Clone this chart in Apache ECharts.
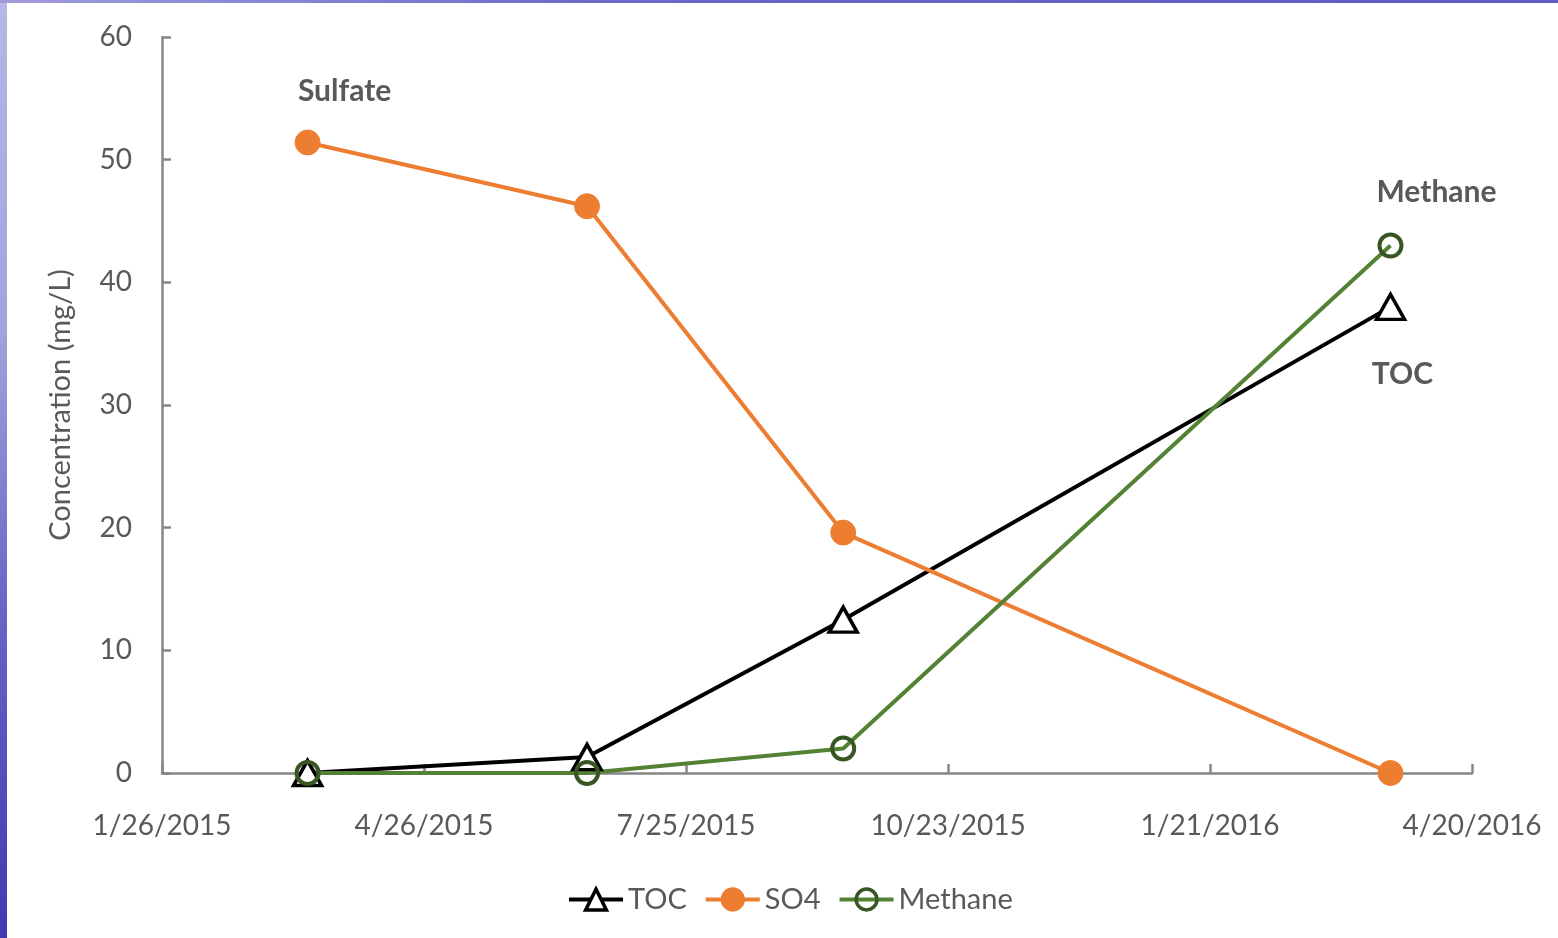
<!DOCTYPE html>
<html>
<head>
<meta charset="utf-8">
<title>Concentration</title>
<script src="https://cdn.jsdelivr.net/npm/echarts@6/dist/echarts.min.js"></script>
<style>
html,body{margin:0;padding:0;width:1558px;height:938px;overflow:hidden;background:#fff;}
#edgeLeft{position:absolute;left:0;top:0;width:7px;height:938px;background:linear-gradient(to bottom,#b6b6e8,#a4a2dc 35%,#6a64c6 65%,#4039b2);}
#edgeTop{position:absolute;left:0;top:0;width:1558px;height:3px;background:linear-gradient(to right,#a09cdc,#6c67c8 40%,#605bc3);}
#chartsDiv{position:absolute;left:0;top:0;width:1558px;height:938px;}
</style>
</head>
<body>
<div id="edgeLeft"></div>
<div id="edgeTop"></div>
<div id="chartsDiv"></div>
<script>
// sample dates and measured values (mg/L)
var sampleDates = ['2015-03-17', '2015-06-21', '2015-09-17', '2016-03-23'];
var tocValues = [0, 1.3, 12.5, 38.0];
var so4Values = [51.4, 46.2, 19.6, 0];
var methaneValues = [0, 0, 2.0, 43.0];

// x axis: days counted from the first tick
var axisStart = '2015-01-26';
var axisDays = 450;
var tickDays = 90;

var DAY = 86400000;
var textGray = '#595959';
var font = 'Lato';

function dayOffset(d) {
	return (Date.parse(d) - Date.parse(axisStart)) / DAY;
}
function dayLabel(v) {
	var d = new Date(Date.parse(axisStart) + v * DAY);
	return (d.getUTCMonth() + 1) + '/' + d.getUTCDate() + '/' + d.getUTCFullYear();
}
// pair dates with values, tag one point with a text label
function buildData(values, tagIndex, tagText, tagOffset) {
	return values.map(function (v, i) {
		var item = { value: [dayOffset(sampleDates[i]), v] };
		if (i === tagIndex) {
			item.label = {
				show: true,
				position: 'inside',
				offset: tagOffset,
				formatter: tagText,
				fontFamily: font,
				fontWeight: 'bold',
				fontSize: 30,
				color: textGray
			};
		}
		return item;
	});
}

var chart = echarts.init(document.getElementById('chartsDiv'));
var axisColor = '#868686';

var option = {
	backgroundColor: 'transparent',
	animation: false,
	grid: { left: 162, right: 86, top: 37, bottom: 165 },
	legend: {
		left: 562,
		top: 880,
		itemWidth: 54,
		itemHeight: 26,
		itemGap: 17,
		lineStyle: { width: 4 },
		itemStyle: { borderWidth: 3.5 },
		textStyle: { fontFamily: font, fontSize: 29, color: textGray },
		data: ['TOC', 'SO4', 'Methane']
	},
	xAxis: {
		type: 'value',
		min: 0,
		max: axisDays,
		interval: tickDays,
		axisLine: { lineStyle: { color: axisColor, width: 2.5 } },
		axisTick: { inside: true, length: 9, lineStyle: { color: axisColor, width: 2.5 } },
		splitLine: { show: false },
		axisLabel: {
			formatter: dayLabel,
			margin: 39,
			fontFamily: font,
			fontSize: 28,
			color: textGray,
			showMinLabel: true,
			showMaxLabel: true
		}
	},
	yAxis: {
		type: 'value',
		min: 0,
		max: 60,
		interval: 10,
		name: 'Concentration (mg/L)',
		nameLocation: 'middle',
		nameGap: 87,
		nameTextStyle: { fontFamily: font, fontSize: 29, color: textGray },
		axisLine: { show: true, lineStyle: { color: axisColor, width: 2.5 } },
		axisTick: { show: true, inside: true, length: 9, lineStyle: { color: axisColor, width: 2.5 } },
		splitLine: { show: false },
		axisLabel: { margin: 30, fontFamily: font, fontSize: 28, color: textGray }
	},
	series: [
		{
			name: 'TOC',
			type: 'line',
			symbol: 'triangle',
			symbolSize: [28, 25],
			lineStyle: { color: '#000', width: 4 },
			itemStyle: { color: '#fff', borderColor: '#000', borderWidth: 3.5 },
			data: buildData(tocValues, 3, 'TOC', [12, 67])
		},
		{
			name: 'SO4',
			type: 'line',
			symbol: 'circle',
			symbolSize: 25,
			lineStyle: { color: '#ed7d31', width: 4 },
			itemStyle: { color: '#ed7d31', borderColor: '#ed7d31', borderWidth: 1 },
			data: buildData(so4Values, 0, 'Sulfate', [37, -51])
		},
		{
			name: 'Methane',
			type: 'line',
			symbol: 'circle',
			symbolSize: 22,
			lineStyle: { color: '#548235', width: 4 },
			itemStyle: { color: 'rgba(255,255,255,0)', borderColor: '#375623', borderWidth: 4 },
			data: buildData(methaneValues, 3, 'Methane', [46, -53])
		}
	]
};
chart.setOption(option);
</script>
</body>
</html>
